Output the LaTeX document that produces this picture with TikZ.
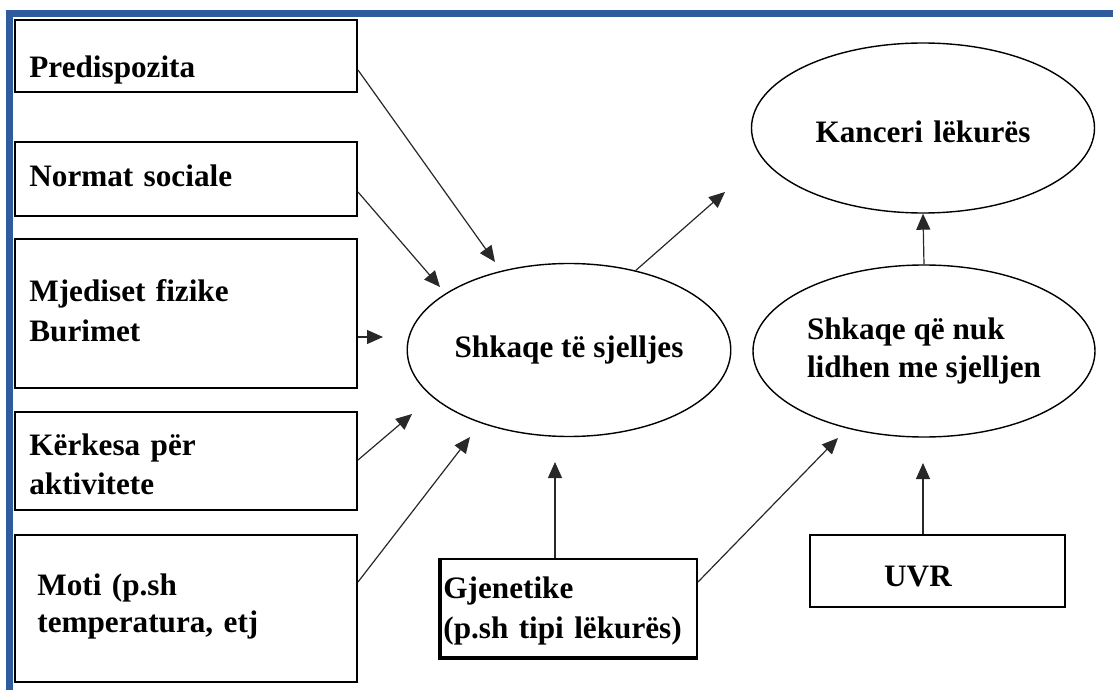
\documentclass[tikz,border=0pt]{standalone}
\usepackage{fontspec}
\setmainfont{Liberation Serif}
\usetikzlibrary{arrows.meta, shapes.geometric}
\definecolor{frameblue}{RGB}{46,92,158}
\definecolor{linegray}{RGB}{40,40,40}
\tikzset{
  box/.style={rectangle, draw=black, line width=1pt, inner sep=0pt},
  oval/.style={ellipse, draw=black, line width=0.7pt, inner sep=0pt, align=left,
               font=\fontsize{15.6}{20}\selectfont\bfseries},
  lbl/.style={inner sep=0pt, text width=166pt, align=left, anchor=base west,
              font=\fontsize{15.6}{20}\selectfont\bfseries},
  arr/.style={-{Triangle[length=8pt, width=7pt]}, line width=0.6pt, draw=linegray}
}

\begin{document}
\begin{tikzpicture}[x=0.5pt, y=-0.5pt]
\useasboundingbox (0,0) rectangle (1116,690);
\fill[frameblue] (6,10) rectangle (1113,17);
\fill[frameblue] (6,10) rectangle (13,690);

\node[box, minimum width=171pt, minimum height=36pt] (pre) at (186,56) {};
\node[box, minimum width=171pt, minimum height=37pt] (nor) at (186,179) {};
\node[box, minimum width=171pt, minimum height=74.5pt] (mje) at (186,313.5) {};
\node[box, minimum width=171pt, minimum height=49pt] (ker) at (186,461) {};
\node[box, minimum width=171pt, minimum height=73.5pt] (mot) at (186,608.5) {};
\node[box, minimum width=128pt, minimum height=49pt] (gen) at (569,608) {};
\node[box, minimum width=127.5pt, minimum height=36pt] (uvr) at (937.5,571) {};
\draw[line width=1.6pt] (gen.north west) -- (gen.south west) -- (gen.south east);

\node[lbl] (tpre) at (29,78) {Predispozita};
\node[lbl] (tnor) at (29,187) {Normat sociale};
\node[lbl] (tmje) at (29,302) {Mjediset fizike\\Burimet};
\node[lbl] (tker) at (29,455) {Kërkesa për\\aktivitete};
\node[lbl, font=\fontsize{15.6}{18.5}\selectfont\bfseries] (tmot) at (37,596) {Moti (p.sh\\temperatura, etj};
\node[lbl, text width=126pt, font=\fontsize{15.6}{20.5}\selectfont\bfseries] (tgen) at (443,598) {Gjenetike\\(p.sh tipi lëkurës)};
\node[lbl, anchor=base, text width=60pt, align=center] (tuvr) at (918,586) {UVR};

\node[oval, minimum width=157.5pt, minimum height=86.5pt] (sje) at (569,350) {Shkaqe të sjelljes};
\node[oval, minimum width=171pt, minimum height=86pt] (nuk) at (924,351) {\raisebox{-2pt}{\shortstack[l]{Shkaqe që nuk\\[2pt]lidhen me sjelljen}}};
\node[oval, minimum width=171.5pt, minimum height=85pt] (kan) at (923,128) {};
\node[lbl, anchor=base, text width=160pt, align=center] (tkan) at (923,143) {Kanceri lëkurës};

\coordinate (epre) at (495,262);
\coordinate (enor) at (440,287);
\coordinate (emje) at (383,337);
\coordinate (eker) at (412,414);
\coordinate (emot) at (470,437);
\coordinate (egen) at (555,462);
\coordinate (eout) at (725,192);
\coordinate (enuk) at (838,438);
\coordinate (euvr) at (923,463);

\draw[arr] ([yshift=-7pt]pre.east) -- (epre);
\draw[arr] ([yshift=-6.5pt]nor.east) -- (enor);
\draw[arr] ([yshift=-11.75pt]mje.east) -- (emje);
\draw[arr] ([yshift=0.5pt]ker.east) -- (eker);
\draw[arr] ([yshift=13.25pt]mot.east) -- (emot);
\draw[arr] ([xshift=-7pt]gen.north) -- (egen);
\draw[arr] ([yshift=13pt]gen.east) -- (enuk);
\draw[arr] (sje.50) -- (eout);
\draw[arr] ([xshift=-7.25pt]uvr.north) -- (euvr);
\draw[arr] (nuk.north) -- (kan.south);
\end{tikzpicture}
\end{document}
